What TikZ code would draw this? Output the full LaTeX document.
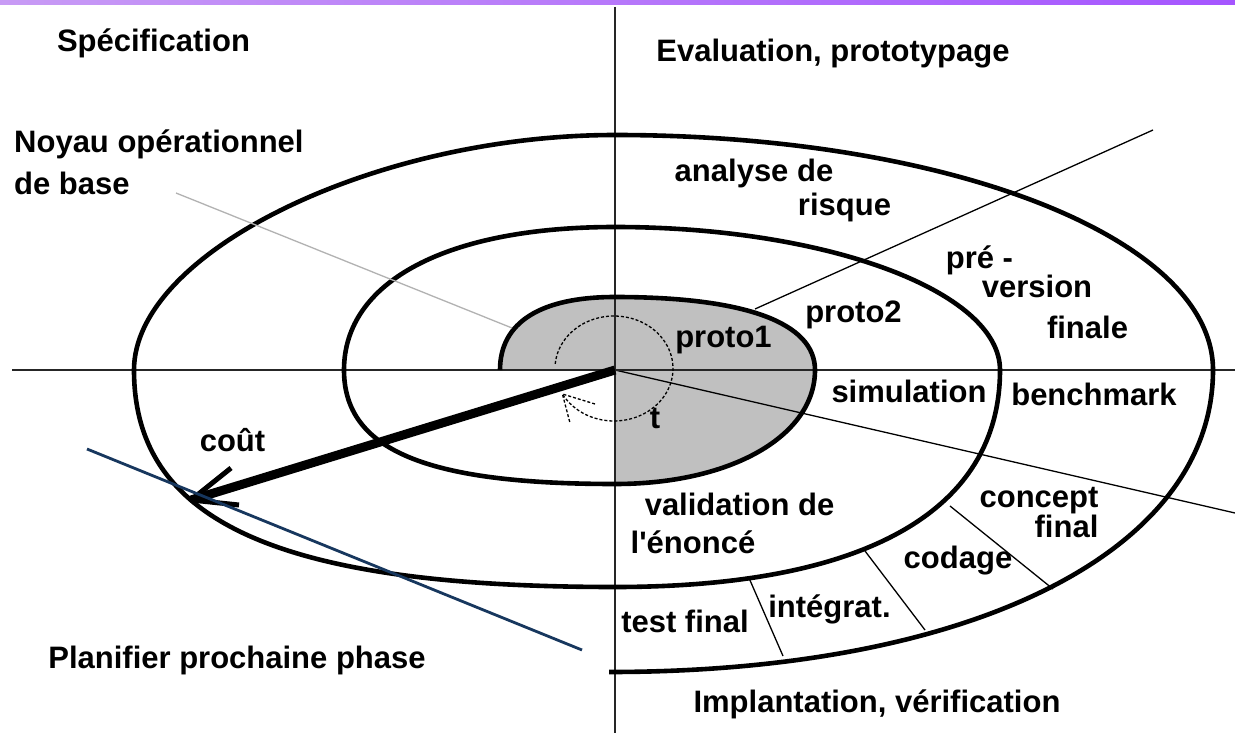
\documentclass[tikz,border=0pt]{standalone}
\usepackage{fontspec}
\setmainfont{Liberation Sans}[Ligatures=TeXOff]
\definecolor{shadegray}{RGB}{192,192,192}
\definecolor{navyline}{RGB}{23,55,94}
\definecolor{barleft}{RGB}{200,155,245}
\definecolor{barright}{RGB}{165,85,255}
\begin{document}
\begin{tikzpicture}[x=1pt,y=-1pt,
  lbl/.style={font=\bfseries\fontsize{31}{36}\selectfont, inner sep=0pt, text height=22pt, text depth=0pt},
  spiral/.style={line width=4.6pt, line join=round},
  thinline/.style={line width=1.3pt},
  axisline/.style={line width=1.8pt, draw=black!85},
  dotline/.style={line width=1.3pt, dash pattern=on 3pt off 2pt},
  leader/.style={line width=1.3pt, draw=black!30},
  costshaft/.style={line width=9pt},
  costhead/.style={line width=5pt, line join=round},
  planline/.style={line width=2.8pt, draw=navyline}]
\useasboundingbox (0,0) rectangle (1235,733);
\fill[white] (0,0) rectangle (1235,733);
\shade[left color=barleft, right color=barright] (0,0) rectangle (1235,4.5);

% key points
\coordinate (O) at (615,370);
\coordinate (A0) at (500,370);
\coordinate (A1) at (615,297);
\coordinate (A2) at (815,370);
\coordinate (A3) at (615,484);
\coordinate (A4) at (344,370);
\coordinate (A5) at (615,227);
\coordinate (A6) at (1000,370);
\coordinate (A7) at (615,587);
\coordinate (A8) at (134,370);
\coordinate (A9) at (615,135);
\coordinate (A10) at (1213,370);
\coordinate (A11) at (609,672);

% shaded core
\fill[shadegray] (O) -- (A0) .. controls (500,322.5) and (540.3,297) .. (A1)
  .. controls (745,297) and (815,322.5) .. (A2)
  .. controls (815,436.1) and (731,484) .. (A3) -- cycle;

% thin radial and dividing lines
\coordinate (rA) at (1235,513);
\coordinate (rB1) at (755,309);
\coordinate (rB2) at (1153,130);
\draw[thinline] (O) -- (rA);
\draw[thinline] (rB1) -- (rB2);
\coordinate (d1a) at (749,578); \coordinate (d1b) at (783,656);
\coordinate (d2a) at (865,551); \coordinate (d2b) at (925,630);
\coordinate (d3a) at (950,506); \coordinate (d3b) at (1053,589);
\draw[thinline] (d1a) -- (d1b);
\draw[thinline] (d2a) -- (d2b);
\draw[thinline] (d3a) -- (d3b);

% axes
\coordinate (vtop) at (615,7);
\coordinate (vbot) at (615,733);
\coordinate (hl) at (12,370);
\coordinate (hr) at (1235,370);
\draw[axisline] (vtop) -- (vbot);
\draw[axisline] (hl) -- (hr);

% spiral
\draw[spiral] (A0) .. controls (500,322.5) and (540.3,297) .. (A1)
  .. controls (745,297) and (815,322.5) .. (A2)
  .. controls (815,436.1) and (731,484) .. (A3)
  .. controls (425.3,484) and (344,449.8) .. (A4)
  .. controls (344,281.3) and (447,227) .. (A5)
  .. controls (826.8,227) and (1000,291.4) .. (A6)
  .. controls (1000,511) and (865.3,587) .. (A7)
  .. controls (278.3,587) and (134,521.9) .. (A8)
  .. controls (134,252.5) and (374.5,135) .. (A9)
  .. controls (949.9,135) and (1213,238.4) .. (A10)
  .. controls (1213,551.2) and (972.6,672) .. (A11);

% leader line
\coordinate (lead1) at (176,193);
\coordinate (lead2) at (512,328);
\draw[leader] (lead1) -- (lead2);

% dashed rotation circle
\draw[dotline] plot[domain=175:-151, samples=80] ({614+59*cos(\x)},{368.5-52.5*sin(\x)});
\coordinate (ctip) at (562.4,394);
\coordinate (cb1) at (595,404);
\coordinate (cb2) at (570,423);
\draw[dotline] (cb1) -- (ctip) -- (cb2);

% cost arrow
\coordinate (ktip) at (191,500);
\coordinate (kb1) at (231,468);
\coordinate (kb2) at (239,505);
\draw[costshaft] (O) -- (ktip);
\draw[costhead] (kb1) -- (ktip) -- (kb2);

% planning line
\coordinate (p1) at (87,449);
\coordinate (p2) at (582,650);
\draw[planline] (p1) -- (p2);

% labels
\node[lbl] (spec) at (153.5,41) {Spécification};
\node[lbl] (eval) at (833,51) {Evaluation, prototypage};
\node[lbl, anchor=west] (noyau1) at (14,142) {Noyau opérationnel};
\node[lbl, anchor=west] (noyau2) at (14,184) {de base};
\node[lbl] (ana1) at (754,171) {analyse de};
\node[lbl] (ana2) at (844.5,204) {risque};
\node[lbl] (pre1) at (979.5,257) {pré -};
\node[lbl] (pre2) at (1037,286) {version};
\node[lbl] (pre3) at (1087.5,327) {finale};
\node[lbl] (proto2) at (853.5,311) {proto2};
\node[lbl] (proto1) at (723.5,336) {proto1};
\node[lbl] (simu) at (909,391) {simulation};
\node[lbl] (bench) at (1094,394) {benchmark};
\node[lbl] (valid1) at (739.5,504) {validation de};
\node[lbl] (valid2) at (693,542) {l'énoncé};
\node[lbl] (conc1) at (1039,496) {concept};
\node[lbl] (conc2) at (1066.5,526) {final};
\node[lbl] (codage) at (958,557) {codage};
\node[lbl] (test) at (685,621) {test final};
\node[lbl] (integ) at (829.5,606) {intégrat.};
\node[lbl] (impl) at (877,701) {Implantation, vérification};
\node[lbl] (plan) at (237,657) {Planifier prochaine phase};
\node[lbl] (cout) at (232.5,440) {coût};
\node[lbl] (tlbl) at (655,417) {t};
\end{tikzpicture}
\end{document}
